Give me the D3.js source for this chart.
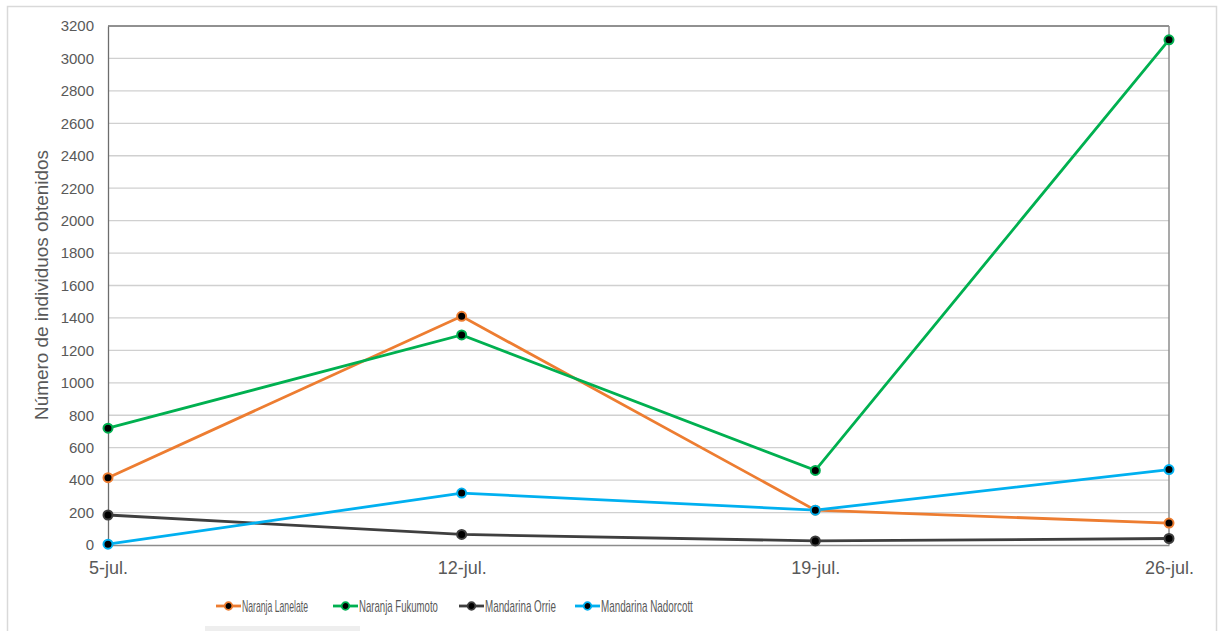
<!DOCTYPE html>
<html>
<head>
<meta charset="utf-8">
<script src="https://cdn.jsdelivr.net/npm/d3@7"></script>
<style>
  body { margin: 0; background: #fff; }
  text { font-family: "Liberation Sans", Arial, sans-serif; }
</style>
</head>
<body>
<div id="chart"></div>
<script>
// data
var dates = ["5-jul.", "12-jul.", "19-jul.", "26-jul."];
var seriesNames = ["Naranja Lanelate", "Naranja Fukumoto", "Mandarina Orrie", "Mandarina Nadorcott"];
var lanelate = [415, 1410, 215, 135];
var fukumoto = [720, 1295, 460, 3115];
var orrie = [185, 65, 25, 40];
var nadorcott = [5, 320, 215, 465];
var yTicks = [0, 200, 400, 600, 800, 1000, 1200, 1400, 1600, 1800, 2000, 2200, 2400, 2600, 2800, 3000, 3200];
var colors = ["#ED7D31", "#00B050", "#3F3F3F", "#00B0F0"];

var series = [lanelate, fukumoto, orrie, nadorcott].map(function(v, i) {
    return {name: seriesNames[i], values: v, color: colors[i]};
});

var W = 1219, H = 631;
var margin = {top: 26, right: 50, bottom: 86, left: 108};
var width = W - margin.left - margin.right;
var height = H - margin.top - margin.bottom;

var svg = d3.select("#chart").append("svg")
    .attr("width", W)
    .attr("height", H);

// outer frame
svg.append("rect")
    .attr("x", 7.5).attr("y", 6.5)
    .attr("width", 1209).attr("height", 640)
    .attr("fill", "#fff")
    .attr("stroke", "#d9d9d9")
    .attr("stroke-width", 1.5);

// small grey strip at the bottom
svg.append("rect")
    .attr("x", 205).attr("y", 626)
    .attr("width", 155).attr("height", 6)
    .attr("fill", "#eeeeee");

var g = svg.append("g")
    .attr("transform", "translate(" + margin.left + "," + margin.top + ")");

var x = d3.scalePoint()
    .domain(dates)
    .range([0, width]);

var y = d3.scaleLinear()
    .domain([0, 3200])
    .range([height, 0]);

// gridlines
g.append("g")
    .selectAll("line")
    .data(yTicks.slice(1, -1))
    .enter().append("line")
    .attr("x1", 0).attr("x2", width)
    .attr("y1", function(d) { return y(d); })
    .attr("y2", function(d) { return y(d); })
    .attr("stroke", "#d0d0d0")
    .attr("stroke-width", 1.3);

// top border (dark) and right border
g.append("line")
    .attr("x1", 0).attr("x2", width)
    .attr("y1", y(3200)).attr("y2", y(3200))
    .attr("stroke", "#222").attr("stroke-width", 1);
g.append("line")
    .attr("x1", width).attr("x2", width)
    .attr("y1", 0).attr("y2", height)
    .attr("stroke", "#8c8c8c").attr("stroke-width", 1.5);

// y axis
var yAxis = d3.axisLeft(y).tickValues(yTicks).tickFormat(d3.format("d")).tickSize(0).tickPadding(14);
var yg = g.append("g").attr("class", "y-axis").call(yAxis);
yg.select(".domain").attr("stroke", "#6d6d6d").attr("stroke-width", 1.3);
yg.selectAll("text")
    .style("font-size", "15px")
    .attr("fill", "#595959");

// x axis
var xAxis = d3.axisBottom(x).tickSize(0).tickPadding(16);
var xg = g.append("g").attr("class", "x-axis")
    .attr("transform", "translate(0," + height + ")")
    .call(xAxis);
xg.select(".domain").attr("stroke", "#8c8c8c").attr("stroke-width", 1.5);
xg.selectAll("text")
    .style("font-size", "18px")
    .attr("fill", "#595959");

// y axis title
svg.append("text")
    .attr("transform", "translate(48," + 285 + ") rotate(-90)")
    .attr("text-anchor", "middle")
    .attr("textLength", 270)
    .attr("lengthAdjust", "spacingAndGlyphs")
    .style("font-size", "18px")
    .attr("fill", "#595959")
    .text("Número de individuos obtenidos");

// lines
var line = d3.line()
    .x(function(d, i) { return x(dates[i]); })
    .y(function(d) { return y(d); });

series.forEach(function(s) {
    g.append("path")
        .datum(s.values)
        .attr("d", line)
        .attr("fill", "none")
        .attr("stroke", s.color)
        .attr("stroke-width", 2.8);
});

series.forEach(function(s) {
    g.selectAll(null)
        .data(s.values)
        .enter().append("circle")
        .attr("cx", function(d, i) { return x(dates[i]); })
        .attr("cy", function(d) { return y(d); })
        .attr("r", 4.5)
        .attr("fill", "#000")
        .attr("stroke", s.color)
        .attr("stroke-width", 2);
});

// legend (narrow font faked by squeezing the text horizontally)
var legendX = [216, 333, 459, 575];
var legendW = [66, 79, 71, 92];
var legend = svg.append("g").attr("transform", "translate(0,606)");
series.forEach(function(s, i) {
    var lg = legend.append("g").attr("transform", "translate(" + legendX[i] + ",0)");
    lg.append("line")
        .attr("x1", 0).attr("x2", 25)
        .attr("stroke", s.color).attr("stroke-width", 2.8);
    lg.append("circle")
        .attr("cx", 12.5).attr("r", 3.8)
        .attr("fill", "#000")
        .attr("stroke", s.color).attr("stroke-width", 1.8);
    var t = lg.append("text")
        .attr("dy", "0.36em")
        .style("font-size", "16px")
        .attr("fill", "#595959")
        .text(s.name);
    var sx = legendW[i] / t.node().getComputedTextLength();
    t.attr("transform", "translate(26,0) scale(" + sx + ",1)");
});
</script>
</body>
</html>
